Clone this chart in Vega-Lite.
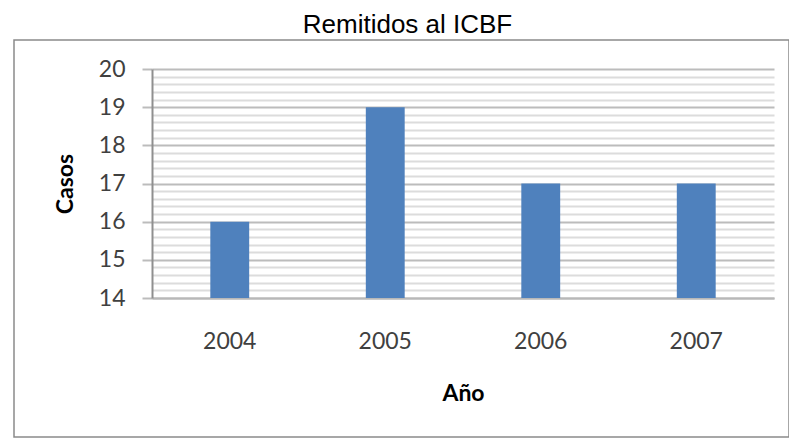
{
  "$schema": "https://vega.github.io/schema/vega-lite/v6.json",
  "autosize": {"type": "none"},
  "width": 775,
  "height": 397,
  "padding": {"left": 14, "top": 40, "right": 0, "bottom": 3},
  "background": "white",
  "title": {
    "text": "Remitidos al ICBF",
    "font": "Liberation Sans",
    "fontSize": 26,
    "fontWeight": "normal",
    "color": "#000000",
    "anchor": "middle",
    "baseline": "alphabetic",
    "offset": 8,
    "dx": 6,
    "dy": 27
  },
  "config": {
    "view": {"stroke": "#8a8a8a", "strokeWidth": 1.5},
    "axis": {
      "labelFont": "Lato",
      "labelFontSize": 23,
      "labelColor": "#404040",
      "titleFont": "Lato",
      "titleFontSize": 23,
      "titleFontWeight": "bold",
      "titleColor": "#000000"
    }
  },
  "data": {
    "values": [
      {"Año": "2004", "Casos": 16},
      {"Año": "2005", "Casos": 19},
      {"Año": "2006", "Casos": 17},
      {"Año": "2007", "Casos": 17}
    ]
  },
  "mark": {"type": "bar", "color": "#4f81bd"},
  "encoding": {
    "x": {
      "field": "Año",
      "type": "nominal",
      "scale": {"range": [138, 760], "paddingInner": 0.75, "paddingOuter": 0.375},
      "axis": {
        "title": "Año",
        "orient": "bottom",
        "offset": -139,
        "labelAngle": 0,
        "ticks": false,
        "domainColor": "#b8b8b8",
        "domainWidth": 2,
        "labelPadding": 32,
        "titlePadding": 29,
        "grid": false
      }
    },
    "y": {
      "field": "Casos",
      "type": "quantitative",
      "scale": {"domain": [14, 20], "zero": false, "nice": false, "range": [258, 29]},
      "axis": {
        "title": "Casos",
        "orient": "left",
        "offset": -138,
        "values": [14, 14.2, 14.4, 14.6, 14.8, 15, 15.2, 15.4, 15.6, 15.8, 16, 16.2, 16.4, 16.6, 16.8, 17, 17.2, 17.4, 17.6, 17.8, 18, 18.2, 18.4, 18.6, 18.8, 19, 19.2, 19.4, 19.6, 19.8, 20],
        "labelExpr": "datum.value % 1 === 0 ? format(datum.value, 'd') : ''",
        "grid": true,
        "gridWidth": 2,
        "gridColor": {"condition": {"test": "datum.value % 1 === 0", "value": "#bcbcbc"}, "value": "#dcdcdc"},
        "tickOpacity": {"condition": {"test": "datum.value % 1 === 0", "value": 1}, "value": 0},
        "tickSize": 10,
        "tickWidth": 2,
        "tickColor": "#bcbcbc",
        "domainColor": "#8f8f8f",
        "domainWidth": 2,
        "labelPadding": 17,
        "titlePadding": 21
      }
    },
    "y2": {"datum": 14}
  }
}
